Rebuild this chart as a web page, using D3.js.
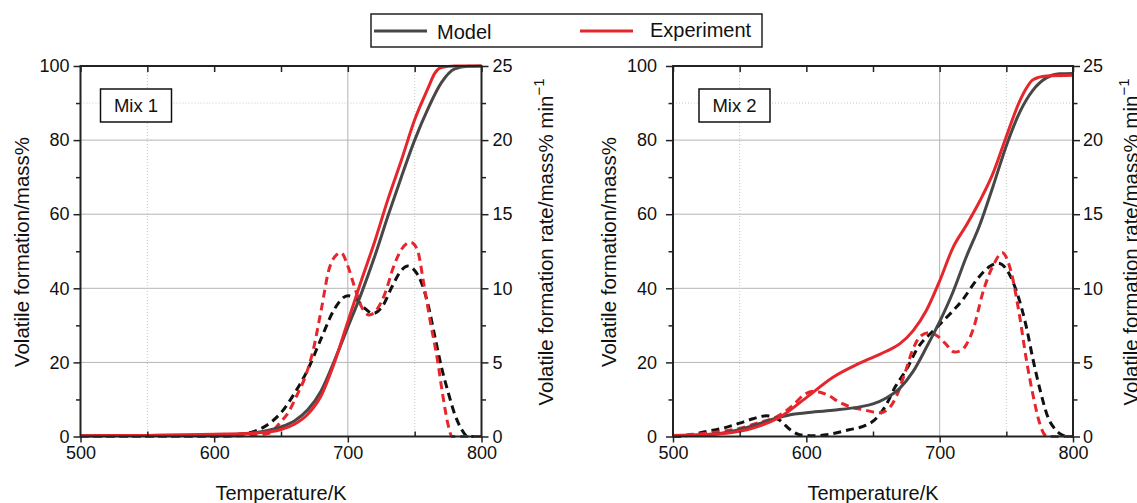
<!DOCTYPE html>
<html>
<head>
<meta charset="UTF-8">
<script src="https://d3js.org/d3.v7.min.js"></script>
<style>
  body { margin: 0; background: #fff; }
  text { font-family: "Liberation Sans", Arial, sans-serif; }
</style>
</head>
<body>
<div id="my_dataviz"></div>
<script>

// ---- data: [temperature K, value] ----
// cumulative volatile formation (mass%), left axis
var mix1ModelCum = [[500,0.2],[550,0.3],[600,0.5],[620,0.7],[640,1.6],[650,2.6],[660,4.2],[670,7.2],[680,12.3],[690,20.5],[700,29.5],[710,38.5],[720,48.5],[730,59.5],[740,70],[750,80],[760,88.5],[770,95.5],[780,99.2],[790,99.9],[800,100]];
var mix1ExpCum = [[500,0.2],[550,0.3],[600,0.6],[630,0.9],[640,1.2],[650,1.9],[660,3.3],[670,6.0],[680,11],[690,20],[700,31],[710,42],[720,52.5],[730,64],[740,74.5],[750,85.5],[760,94],[765,98],[770,99.6],[780,100],[800,100]];
var mix2ModelCum = [[500,0.2],[520,0.4],[540,1.1],[560,2.9],[580,5.2],[590,6.0],[600,6.4],[620,7.1],[640,8.0],[650,8.8],[660,10.4],[670,13],[680,17.5],[690,24],[700,31],[710,39],[720,48.5],[730,57],[740,67.5],[750,78.5],[760,87.5],[770,93.5],[780,96.8],[790,97.9],[800,98]];
var mix2ExpCum = [[500,0.3],[520,0.5],[540,0.9],[560,2.3],[580,5.2],[600,10.5],[620,16],[640,19.8],[660,23],[670,25],[680,28.5],[690,34],[700,42],[710,51],[720,57],[730,63.5],[740,71],[750,81],[760,90.5],[765,94],[770,96.3],[780,97.3],[800,97.5]];

// volatile formation rate (mass% min-1), right axis
var mix1ModelRate = [[500,0],[600,0],[615,0.1],[630,0.35],[640,0.8],[650,1.6],[660,2.9],[670,4.5],[680,6.6],[690,8.6],[700,9.5],[706,9.3],[712,8.7],[719,8.3],[726,8.8],[733,10.1],[740,11.2],[745,11.5],[750,11.2],[755,10.4],[760,8.9],[765,6.8],[770,4.7],[775,3.0],[780,1.5],[785,0.5],[790,0],[800,0]];
var mix1ExpRate = [[500,0],[600,0],[620,0.05],[640,0.2],[650,1.0],[656,1.7],[662,2.8],[668,4.0],[674,5.8],[680,8.5],[686,11.3],[690,12.1],[695,12.4],[700,11.5],[705,10.1],[710,8.8],[716,8.2],[722,8.6],[728,9.7],[734,11.4],[740,12.6],[747,13.1],[752,12.6],[757,10.2],[762,7.6],[767,5.2],[771,2.8],[775,0.8],[778,0],[800,0]];
var mix2ModelRate = [[500,0],[510,0.05],[523,0.3],[537,0.55],[550,0.9],[560,1.2],[570,1.4],[580,1.1],[588,0.45],[595,0.12],[605,0.05],[617,0.15],[632,0.45],[643,0.7],[651,1.1],[659,2.0],[667,3.4],[675,4.5],[683,5.9],[696,7.2],[707,8.2],[717,9.2],[728,10.6],[738,11.5],[744,11.7],[752,11.0],[758,9.7],[765,7.4],[770,5.2],[776,2.9],[781,1.35],[787,0.45],[792,0.1],[796,0],[800,0]];
var mix2ExpRate = [[500,0],[510,0.1],[523,0.2],[537,0.35],[550,0.55],[563,0.9],[577,1.3],[590,2.1],[598,2.8],[606,3.05],[616,2.8],[625,2.3],[633,2.0],[643,1.8],[655,1.6],[662,1.9],[668,2.8],[674,4.3],[680,5.9],[686,6.8],[692,7.0],[698,6.8],[704,6.3],[711,5.7],[716,5.8],[720,6.2],[725,7.2],[733,9.9],[741,11.7],[747,12.4],[753,11.3],[760,8.1],[765,5.2],[770,2.8],[775,0.9],[779,0.1],[782,0],[800,0]];

// ticks and labels
var xMajor = [500, 600, 700, 800];
var xMinor = [550, 650, 750];
var yMajor = [0, 20, 40, 60, 80, 100];
var yMinor = [10, 30, 50, 70, 90];
var rMajor = [0, 5, 10, 15, 20, 25];
var rMinor = [2.5, 7.5, 12.5, 17.5, 22.5];
var gridY = [20, 40, 60, 80];
var gridX = [700];
var dotGridY = [90];
var dotGridX = [550, 750];
var seriesNames = ["Model", "Experiment"];
var panelNames = ["Mix 1", "Mix 2"];

var gray = "#474747", red = "#e5262c";

var svg = d3.select("#my_dataviz")
  .append("svg")
    .attr("width", 1137)
    .attr("height", 503);

var plotTop = 66, plotBottom = 436.5;

function drawPanel(p) {
  var x = d3.scaleLinear().domain([500, 800]).range([p.left, p.right]);
  var y = d3.scaleLinear().domain([0, 100]).range([plotBottom, plotTop]);
  var yr = d3.scaleLinear().domain([0, 25]).range([plotBottom, plotTop]);
  var g = svg.append("g");

  // grid lines
  g.selectAll(null).data(gridY).enter().append("line")
    .attr("x1", p.left).attr("x2", p.right)
    .attr("y1", function(d){ return y(d); }).attr("y2", function(d){ return y(d); })
    .style("stroke", "#b4b4b4").style("stroke-width", 1);
  g.selectAll(null).data(gridX).enter().append("line")
    .attr("y1", plotTop).attr("y2", plotBottom)
    .attr("x1", function(d){ return x(d); }).attr("x2", function(d){ return x(d); })
    .style("stroke", "#b4b4b4").style("stroke-width", 1);
  g.selectAll(null).data(dotGridY).enter().append("line")
    .attr("x1", p.left).attr("x2", p.right)
    .attr("y1", function(d){ return y(d); }).attr("y2", function(d){ return y(d); })
    .style("stroke", "#c8c8c8").style("stroke-width", 1).style("stroke-dasharray", "1,2");
  g.selectAll(null).data(dotGridX).enter().append("line")
    .attr("y1", plotTop).attr("y2", plotBottom)
    .attr("x1", function(d){ return x(d); }).attr("x2", function(d){ return x(d); })
    .style("stroke", "#c8c8c8").style("stroke-width", 1).style("stroke-dasharray", "1,2");

  // curves
  var lineCum = d3.line().curve(d3.curveMonotoneX)
    .x(function(d){ return x(d[0]); }).y(function(d){ return y(d[1]); });
  var lineRate = d3.line().curve(d3.curveMonotoneX)
    .x(function(d){ return x(d[0]); }).y(function(d){ return yr(d[1]); });

  g.append("path").datum(p.modelRate).attr("d", lineRate)
    .style("fill", "none").style("stroke", "#111").style("stroke-width", 3).style("stroke-dasharray", "8,5");
  g.append("path").datum(p.expRate).attr("d", lineRate)
    .style("fill", "none").style("stroke", red).style("stroke-width", 3).style("stroke-dasharray", "8,5");
  g.append("path").datum(p.modelCum).attr("d", lineCum)
    .style("fill", "none").style("stroke", gray).style("stroke-width", 3);
  g.append("path").datum(p.expCum).attr("d", lineCum)
    .style("fill", "none").style("stroke", red).style("stroke-width", 3);

  // axes
  var fam = '"Liberation Sans", Arial, sans-serif';
  function styleAxis(sel) {
    sel.select(".domain").remove();
    sel.attr("font-family", fam).attr("font-size", 18);
    sel.selectAll("line").style("stroke", "#222").style("stroke-width", 1.5);
    sel.selectAll("text").style("fill", "#111");
  }
  g.append("g").attr("transform", "translate(" + p.left + ",0)")
    .call(d3.axisLeft(y).tickValues(yMajor).tickSize(7).tickPadding(p.padL))
    .call(styleAxis);
  g.append("g").attr("transform", "translate(" + p.left + ",0)")
    .call(d3.axisLeft(y).tickValues(yMinor).tickSize(4.5).tickFormat(""))
    .call(styleAxis);
  g.append("g").attr("transform", "translate(" + p.right + ",0)")
    .call(d3.axisRight(yr).tickValues(rMajor).tickSize(7).tickPadding(p.padR))
    .call(styleAxis);
  g.append("g").attr("transform", "translate(" + p.right + ",0)")
    .call(d3.axisRight(yr).tickValues(rMinor).tickSize(4.5).tickFormat(""))
    .call(styleAxis);
  g.append("g").attr("transform", "translate(0," + plotBottom + ")")
    .call(d3.axisBottom(x).tickValues(xMajor).tickSize(6).tickPadding(4))
    .call(styleAxis);
  g.append("g").attr("transform", "translate(0," + plotBottom + ")")
    .call(d3.axisBottom(x).tickValues(xMinor).tickSize(-5).tickFormat(""))
    .call(styleAxis);
  g.append("g").attr("transform", "translate(0," + plotTop + ")")
    .call(d3.axisTop(x).tickValues(xMajor.concat(xMinor)).tickSize(-6).tickFormat(""))
    .call(styleAxis);

  // frame
  g.append("rect")
    .attr("x", p.left).attr("y", plotTop)
    .attr("width", p.right - p.left).attr("height", plotBottom - plotTop)
    .style("fill", "none").style("stroke", "#222").style("stroke-width", 2);

  // panel label
  g.append("rect")
    .attr("x", p.left + p.boxDx).attr("y", 89)
    .attr("width", 71).attr("height", 33)
    .style("fill", "#fff").style("stroke", "#111").style("stroke-width", 1.5);
  g.append("text")
    .attr("x", p.left + p.boxDx + 35.5).attr("y", 112)
    .attr("text-anchor", "middle")
    .style("font-size", "18.5px").style("fill", "#111")
    .text(p.name);

  // axis titles
  g.append("text")
    .attr("x", (p.left + p.right) / 2).attr("y", 500)
    .attr("text-anchor", "middle")
    .style("font-size", "20px").style("fill", "#111")
    .text("Temperature/K");
  g.append("text")
    .attr("transform", "translate(" + p.titleL + ",252) rotate(-90)")
    .attr("text-anchor", "middle")
    .style("font-size", "20.5px").style("fill", "#111")
    .text("Volatile formation/mass%");
  var t = g.append("text")
    .attr("transform", "translate(" + p.titleR + ",242) rotate(-90)")
    .attr("text-anchor", "middle")
    .style("font-size", "20.5px").style("fill", "#111");
  t.append("tspan").text("Volatile formation rate/mass% min");
  t.append("tspan").attr("dy", -9).style("font-size", "15px").text("\u22121");
}

drawPanel({ name: panelNames[0], left: 80.5, right: 481.5, padL: 4, padR: 4,
  boxDx: 20, titleL: 29, titleR: 553,
  modelCum: mix1ModelCum, expCum: mix1ExpCum, modelRate: mix1ModelRate, expRate: mix1ExpRate });
drawPanel({ name: panelNames[1], left: 673, right: 1073, padL: 9, padR: 3,
  boxDx: 26, titleL: 616, titleR: 1138,
  modelCum: mix2ModelCum, expCum: mix2ExpCum, modelRate: mix2ModelRate, expRate: mix2ExpRate });

// legend
var legend = svg.append("g");
legend.append("rect")
  .attr("x", 371).attr("y", 14).attr("width", 391).attr("height", 33)
  .style("fill", "#fff").style("stroke", "#222").style("stroke-width", 1.5);
var legendItems = [
  { name: seriesNames[0], color: gray, x1: 374, x2: 427, tx: 437, ty: 39 },
  { name: seriesNames[1], color: red, x1: 580, x2: 633, tx: 650, ty: 37 }
];
legendItems.forEach(function(d) {
  legend.append("line")
    .attr("x1", d.x1).attr("x2", d.x2).attr("y1", 31).attr("y2", 31)
    .style("stroke", d.color).style("stroke-width", 3);
  legend.append("text")
    .attr("x", d.tx).attr("y", d.ty)
    .style("font-size", "20px").style("fill", "#111")
    .text(d.name);
});

</script>
</body>
</html>
